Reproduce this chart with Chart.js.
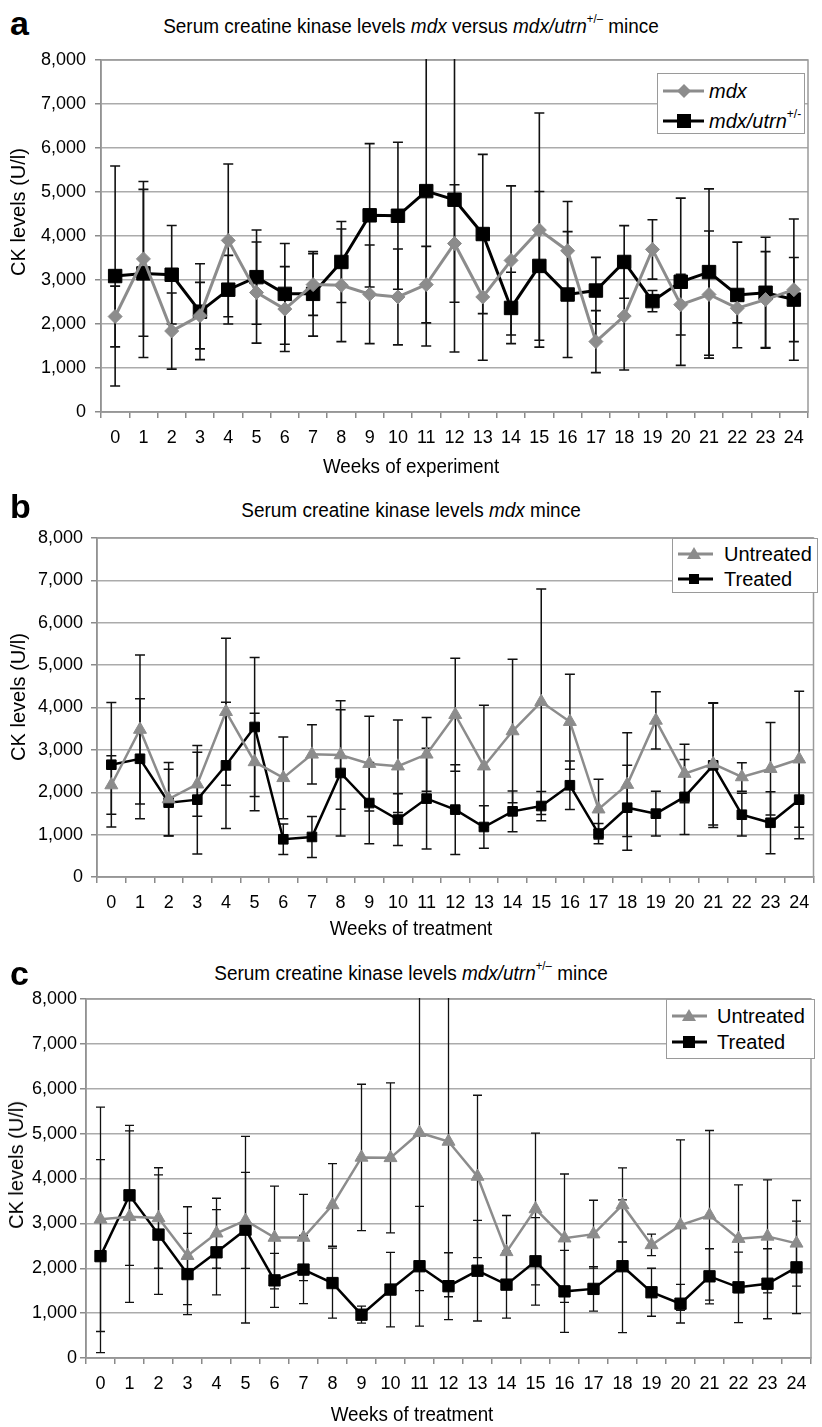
<!DOCTYPE html>
<html>
<head>
<meta charset="utf-8">
<script src="https://cdn.jsdelivr.net/npm/chart.js@4.4.1/dist/chart.umd.min.js"></script>
<style>
  body { margin: 0; background: #fff; }
  #page { position: relative; width: 822px; height: 1427px; overflow: hidden; font-family: "Liberation Sans", Arial, sans-serif; color: #000; }
  canvas { position: absolute; left: 0; }
  .txt { position: absolute; white-space: nowrap; line-height: 1; }
  .letter { font-weight: bold; font-size: 34px; left: 10px; }
  .title { font-size: 20.5px; transform: translate(-50%, -50%) scaleX(0.925); }
  .xtitle { font-size: 20px; transform: translate(-50%, -50%) scaleX(0.94); }
  .ytitle { font-size: 20px; transform: translate(-50%, -50%) rotate(-90deg); }
  .legend { position: absolute; border: 1px solid #9a9a9a; background: #fff; }
  .legend .row { position: absolute; left: 0; }
  .legend svg { position: absolute; left: 0; top: -9px; }
  .legend span { position: absolute; font-size: 20px; line-height: 1; top: -10px; white-space: nowrap; }
  sup { font-size: 60%; line-height: 0; position: relative; top: -0.2em; vertical-align: super; }
</style>
</head>
<body>
<div id="page">
  <div class="txt letter" style="top:6px;">a</div>
  <div class="txt title" style="left:411px; top:26px;">Serum creatine kinase levels <i>mdx</i> versus <i>mdx/utrn</i><sup>+/–</sup> mince</div>
  <canvas id="chartA" width="822" height="440" style="top:40px;"></canvas>
  <div class="txt ytitle" style="left:18px; top:212px;">CK levels (U/l)</div>
  <div class="txt xtitle" style="left:411px; top:466px;">Weeks of experiment</div>
  <div class="legend" style="left:657px; top:73px; width:146px; height:59px;">
    <div class="row" style="top:17px;">
      <svg width="50" height="18"><line x1="5" y1="9" x2="46" y2="9" stroke="#8c8c8c" stroke-width="3"/><polygon points="26,2 33,9 26,16 19,9" fill="#8c8c8c"/></svg>
      <span style="left:51px;"><i>mdx</i></span>
    </div>
    <div class="row" style="top:47px;">
      <svg width="50" height="18"><line x1="5" y1="9" x2="46" y2="9" stroke="#000" stroke-width="3"/><rect x="19" y="2" width="14" height="14" fill="#000"/></svg>
      <span style="left:51px;"><i>mdx/utrn</i><sup>+/-</sup></span>
    </div>
  </div>

  <div class="txt letter" style="top:489px;">b</div>
  <div class="txt title" style="left:411px; top:510px;">Serum creatine kinase levels <i>mdx</i> mince</div>
  <canvas id="chartB" width="822" height="440" style="top:518px;"></canvas>
  <div class="txt ytitle" style="left:18px; top:697px;">CK levels (U/l)</div>
  <div class="txt xtitle" style="left:411px; top:928px;">Weeks of treatment</div>
  <div class="legend" style="left:672px; top:538px; width:144px; height:53px;">
    <div class="row" style="top:15px;">
      <svg width="50" height="18"><line x1="5" y1="9" x2="40" y2="9" stroke="#8c8c8c" stroke-width="3"/><polygon points="21,2 28,14 14,14" fill="#8c8c8c"/></svg>
      <span style="left:51px;">Untreated</span>
    </div>
    <div class="row" style="top:40px;">
      <svg width="50" height="18"><line x1="5" y1="9" x2="40" y2="9" stroke="#000" stroke-width="3"/><rect x="16" y="4" width="10" height="10" fill="#000"/></svg>
      <span style="left:51px;">Treated</span>
    </div>
  </div>

  <div class="txt letter" style="top:956px;">c</div>
  <div class="txt title" style="left:411px; top:973px;">Serum creatine kinase levels <i>mdx/utrn</i><sup>+/–</sup> mince</div>
  <canvas id="chartC" width="822" height="448" style="top:979px;"></canvas>
  <div class="txt ytitle" style="left:16px; top:1165px;">CK levels (U/l)</div>
  <div class="txt xtitle" style="left:412px; top:1414px;">Weeks of treatment</div>
  <div class="legend" style="left:666px; top:999px; width:147px; height:58px;">
    <div class="row" style="top:16px;">
      <svg width="50" height="18"><line x1="5" y1="9" x2="40" y2="9" stroke="#8c8c8c" stroke-width="3"/><polygon points="22,2 29,14 15,14" fill="#8c8c8c"/></svg>
      <span style="left:50px;">Untreated</span>
    </div>
    <div class="row" style="top:42px;">
      <svg width="50" height="18"><line x1="5" y1="9" x2="40" y2="9" stroke="#000" stroke-width="3"/><rect x="16" y="3" width="12" height="12" fill="#000"/></svg>
      <span style="left:50px;">Treated</span>
    </div>
  </div>
</div>

<script>
// weeks 0..24
const weeks = ['0','1','2','3','4','5','6','7','8','9','10','11','12','13','14','15','16','17','18','19','20','21','22','23','24'];
const yTicks = [0, 1000, 2000, 3000, 4000, 5000, 6000, 7000, 8000];

// mdx (panel a grey, also panel b untreated)
const mdxMean = [2170, 3480, 1840, 2190, 3900, 2715, 2340, 2895, 2880, 2675, 2615, 2895, 3830, 2615, 3445, 4135, 3665, 1600, 2180, 3695, 2440, 2670, 2360, 2555, 2780];
const mdxSd   = [690, 1760, 865, 755, 1735, 1150, 965, 700, 1280, 1120, 1090, 870, 1335, 1440, 1695, 2660, 1120, 705, 1225, 675, 690, 1445, 335, 1090, 1605];

// mdx/utrn+/- (panel a black, also panel c untreated)
const utrnMean = [3090, 3150, 3120, 2280, 2780, 3065, 2685, 2685, 3410, 4470, 4460, 5020, 4825, 4045, 2365, 3320, 2670, 2760, 3410, 2520, 2960, 3180, 2660, 2710, 2555];
const utrnSd   = [2500, 1910, 1120, 1090, 780, 1070, 1145, 960, 920, 1630, 1670, 3520, 3460, 1810, 810, 1690, 1430, 755, 825, 240, 1900, 1890, 1200, 1260, 955];

// panel b treated mdx
const mdxTreatedMean = [2650, 2790, 1755, 1825, 2635, 3540, 890, 945, 2455, 1745, 1355, 1850, 1590, 1180, 1550, 1675, 2165, 1025, 1635, 1495, 1890, 2635, 1470, 1280, 1825];
const mdxTreatedSd   = [1470, 1415, 785, 1280, 1490, 1640, 360, 485, 1490, 960, 610, 1190, 1060, 500, 480, 345, 570, 240, 1005, 530, 885, 1465, 505, 730, 920];

// panel c treated mdx/utrn+/-
const utrnTreatedMean = [2270, 3625, 2750, 1870, 2355, 2860, 1730, 1970, 1670, 965, 1525, 2045, 1600, 1945, 1635, 2155, 1485, 1540, 2045, 1465, 1210, 1820, 1575, 1655, 2020];
const utrnTreatedSd   = [2150, 1560, 1330, 905, 950, 2080, 600, 760, 780, 190, 830, 1335, 745, 1120, 745, 975, 915, 495, 1480, 535, 430, 615, 785, 780, 1030];

const GREY = '#8c8c8c';
const BLACK = '#000000';

const errorBars = {
  id: 'errorBars',
  beforeDatasetsDraw(chart, args, opts) {
    const ctx = chart.ctx, ys = chart.scales.y, a = chart.chartArea;
    ctx.save();
    // frame round the plot
    ctx.strokeStyle = '#9a9a9a';
    ctx.lineWidth = 1.5;
    ctx.strokeRect(a.left, a.top, a.right - a.left, a.bottom - a.top);
    ctx.beginPath();
    ctx.rect(a.left, a.top - 1, a.right - a.left, a.bottom - a.top + 2);
    ctx.clip();
    ctx.strokeStyle = '#111';
    ctx.lineWidth = opts.width;
    const cap = opts.cap;
    chart.data.datasets.forEach((ds, i) => {
      const meta = chart.getDatasetMeta(i);
      meta.data.forEach((pt, j) => {
        const m = ds.data[j], s = ds.sd[j];
        const yt = ys.getPixelForValue(m + s), yb = ys.getPixelForValue(m - s);
        ctx.beginPath();
        ctx.moveTo(pt.x, yt); ctx.lineTo(pt.x, yb);
        ctx.moveTo(pt.x - cap, yt); ctx.lineTo(pt.x + cap, yt);
        ctx.moveTo(pt.x - cap, yb); ctx.lineTo(pt.x + cap, yb);
        ctx.stroke();
      });
    });
    ctx.restore();
  }
};

function series(data, sd, color, style, radius, lw) {
  return {
    data: data, sd: sd,
    borderColor: color, backgroundColor: color,
    borderWidth: lw,
    pointStyle: style, pointRadius: radius, pointHoverRadius: radius,
    pointBackgroundColor: color, pointBorderColor: color, pointBorderWidth: 1,
    tension: 0, fill: false
  };
}

function panel(id, datasets, box, bar) {
  // box: left of plot, right padding, top padding, height of x axis
  new Chart(document.getElementById(id), {
    type: 'line',
    data: { labels: weeks, datasets: datasets },
    options: {
      responsive: false,
      animation: false,
      devicePixelRatio: 1,
      layout: { padding: { top: box.top, right: box.right, left: 0, bottom: 0 } },
      plugins: {
        legend: { display: false },
        tooltip: { enabled: false },
        errorBars: bar
      },
      scales: {
        x: {
          offset: true,
          grid: { display: true, drawOnChartArea: false, offset: true, tickLength: 6, tickColor: '#8a8a8a', lineWidth: 1.5 },
          border: { display: true, color: '#8a8a8a', width: 1.5 },
          ticks: { color: '#000', font: { family: 'Liberation Sans', size: 18 }, padding: box.xpad, maxRotation: 0, autoSkip: false },
          afterFit: s => { s.height = box.xh; }
        },
        y: {
          min: 0, max: 8000,
          afterBuildTicks: s => { s.ticks = yTicks.map(v => ({ value: v })); },
          grid: { color: '#ababab', lineWidth: 1.5, tickLength: 6, tickColor: '#8a8a8a' },
          border: { display: true, color: '#7a7a7a', width: 1.5 },
          ticks: { color: '#000', font: { family: 'Liberation Sans', size: 18 }, padding: box.ypad,
                   callback: v => v.toLocaleString('en-US') },
          afterFit: s => { s.width = box.left; }
        }
      }
    },
    plugins: [errorBars]
  });
}

panel('chartA', [
  series(mdxMean, mdxSd, GREY, 'rectRot', 7, 3),
  series(utrnMean, utrnSd, BLACK, 'rect', 9.5, 3)
], { left: 101, right: 14, top: 20, xh: 68, xpad: 9, ypad: 9 }, { width: 1.6, cap: 5 });

panel('chartB', [
  series(mdxMean, mdxSd, GREY, 'triangle', 7.5, 2.5),
  series(mdxTreatedMean, mdxTreatedSd, BLACK, 'rect', 6.8, 2.5)
], { left: 97, right: 6, top: 20, xh: 81, xpad: 9, ypad: 8 }, { width: 1.5, cap: 5 });

panel('chartC', [
  series(utrnMean, utrnSd, GREY, 'triangle', 7.5, 2.5),
  series(utrnTreatedMean, utrnTreatedSd, BLACK, 'rect', 8, 2.5)
], { left: 86, right: 11, top: 20, xh: 69, xpad: 9, ypad: 3 }, { width: 1.3, cap: 4.5 });
</script>
</body>
</html>
